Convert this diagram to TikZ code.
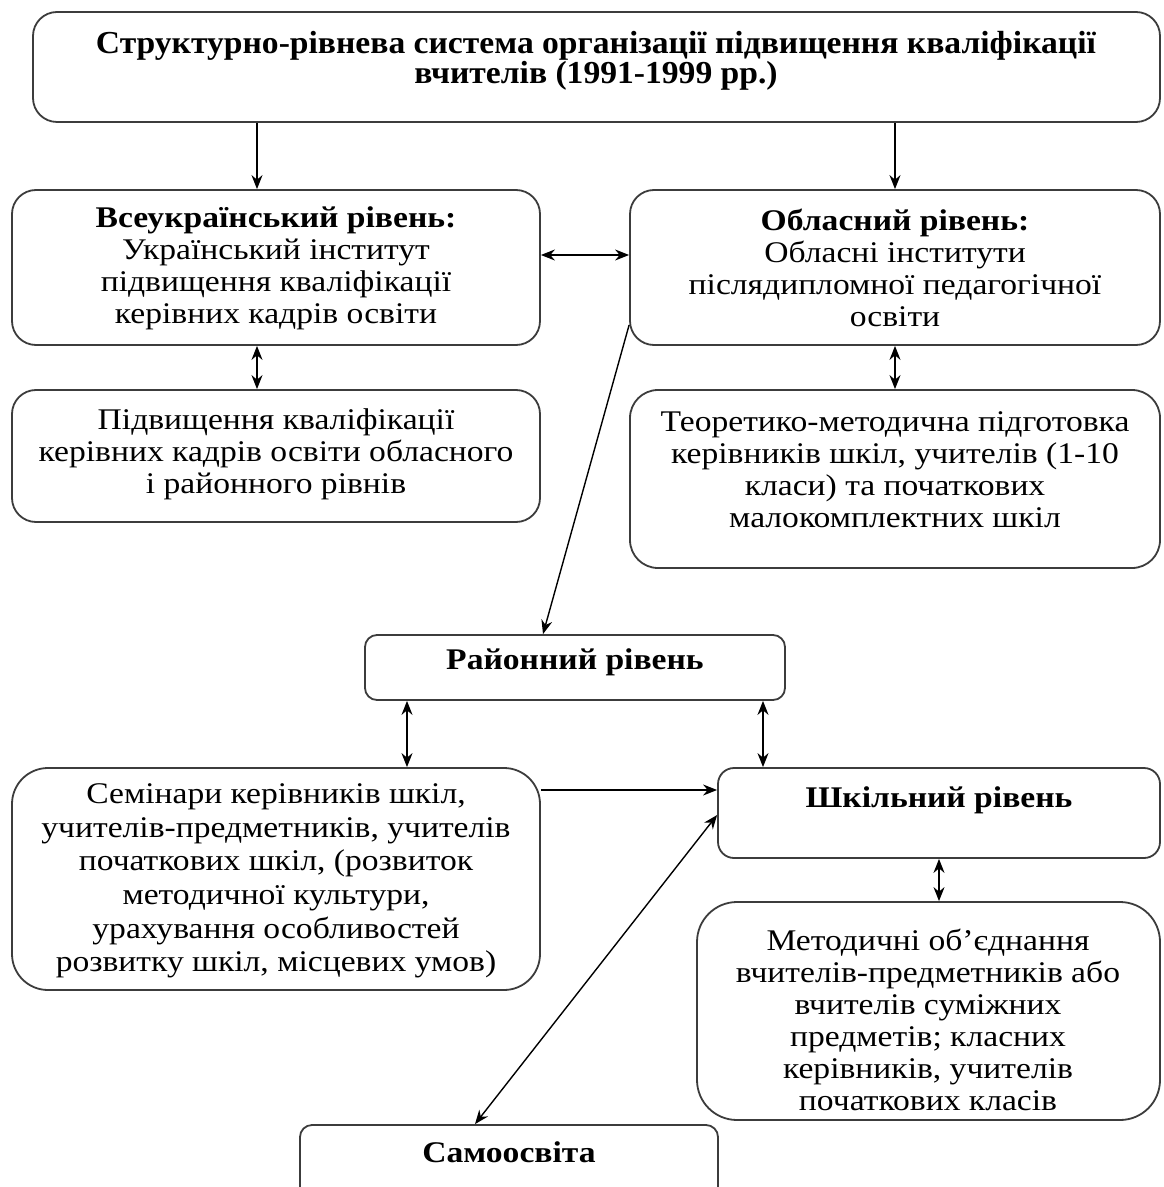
\documentclass[tikz,border=0pt]{standalone}
\usepackage{fontspec}
\setmainfont{Liberation Serif}
\newfontfamily\bodyfont{Liberation Serif}[FakeStretch=1.12]
\newfontfamily\titlefont{Liberation Serif}[FakeStretch=1.05]
\usetikzlibrary{arrows.meta,calc}
\definecolor{boxgray}{HTML}{3C3C3C}
\begin{document}
\begin{tikzpicture}[x=0.5pt,y=-0.5pt,
  box/.style={draw=boxgray, line width=0.9pt, inner sep=0pt, rounded corners=#1},
  box/.default=12pt,
  txt/.style={align=center, inner sep=0pt, font=\bodyfont\fontsize{15}{16}\selectfont},
  ttl/.style={align=center, inner sep=0pt, font=\titlefont\bfseries\fontsize{16}{15}\selectfont},
  arr/.style={-{Stealth[length=7pt,width=5.5pt]}, line width=0.7pt},
  darr/.style={{Stealth[length=7pt,width=5.5pt]}-{Stealth[length=7pt,width=5.5pt]}, line width=0.7pt}]
\useasboundingbox[fill=white] (0,0) rectangle (1163,1187);

% boxes
\node[box=12pt, minimum width=563.5pt, minimum height=55pt] (title) at (596.5,67) {};
\node[box=12pt, minimum width=264pt, minimum height=77.5pt] (A) at (276,267.5) {};
\node[box=12pt, minimum width=265pt, minimum height=77.5pt] (B) at (895,267.5) {};
\node[box=12pt, minimum width=264pt, minimum height=66pt] (C) at (276,456) {};
\node[box=14pt, minimum width=265pt, minimum height=89pt] (D) at (895,479) {};
\node[box=6pt, minimum width=210pt, minimum height=32.5pt] (E) at (575,667.5) {};
\node[box=18pt, minimum width=264pt, minimum height=111pt] (F) at (276,879) {};
\node[box=8pt, minimum width=221pt, minimum height=45pt] (G) at (939,813) {};
\node[box=20pt, minimum width=231.5pt, minimum height=109pt] (I) at (928.5,1011) {};
\node[box=6pt, minimum width=209pt, minimum height=40pt] (H) at (509,1165) {};

% texts
\node[ttl] (titletext) at (596,61) {Структурно-рівнева система організації підвищення кваліфікації\\вчителів (1991-1999 рр.)};
\node[txt] (Atext) at (276,268) {{\bfseries Всеукраїнський рівень:}\\Український інститут\\підвищення кваліфікації\\керівних кадрів освіти};
\node[txt] (Btext) at (895,268) {{\bfseries Обласний рівень:}\\Обласні інститути\\післядипломної педагогічної\\освіти};
\node[txt] (Ctext) at (276,454) {Підвищення кваліфікації\\керівних кадрів освіти обласного\\і районного рівнів};
\node[txt] (Dtext) at (895,470) {Теоретико-методична підготовка\\керівників шкіл, учителів (1-10\\класи) та початкових\\малокомплектних шкіл};
\node[txt] (Etext) at (575,662) {\bfseries Районний рівень};
\node[txt, font=\bodyfont\fontsize{15}{16.8}\selectfont] (Ftext) at (276,881) {Семінари керівників шкіл,\\учителів-предметників, учителів\\початкових шкіл, (розвиток\\методичної культури,\\урахування особливостей\\розвитку шкіл, місцевих умов)};
\node[txt] (Gtext) at (939,800) {\bfseries Шкільний рівень};
\node[txt] (Itext) at (928,1020) {Методичні об’єднання\\вчителів-предметників або\\вчителів суміжних\\предметів; класних\\керівників, учителів\\початкових класів};
\node[txt] (Htext) at (509,1152) {\bfseries Самоосвіта};

% connectors
\draw[arr] ([xshift=-9.5pt]A.north |- title.south) -- ([xshift=-9.5pt]A.north);
\draw[arr] (B.north |- title.south) -- (B.north);
\draw[darr] ([yshift=6.25pt]A.east) -- ([yshift=6.25pt]A.east -| B.west);
\draw[darr] ([xshift=-9.5pt]A.south) -- ([xshift=-9.5pt]A.south |- C.north);
\draw[darr] (B.south) -- (B.south |- D.north);
\draw[arr] ([yshift=-28.75pt]B.west) -- ([xshift=-16pt]E.north);
\draw[darr] ([xshift=-84pt]E.south) -- ([xshift=-84pt]E.south |- F.north);
\draw[darr] ([xshift=94pt]E.south) -- ([xshift=94pt]E.south |- G.north);
\draw[arr] ([yshift=44.5pt]F.east) -- ([yshift=44.5pt]F.east -| G.west);
\draw[darr] ([xshift=-17pt]H.north) -- ([yshift=-1pt]G.west);
\draw[darr] (G.south) -- (G.south |- I.north);
\end{tikzpicture}
\end{document}
